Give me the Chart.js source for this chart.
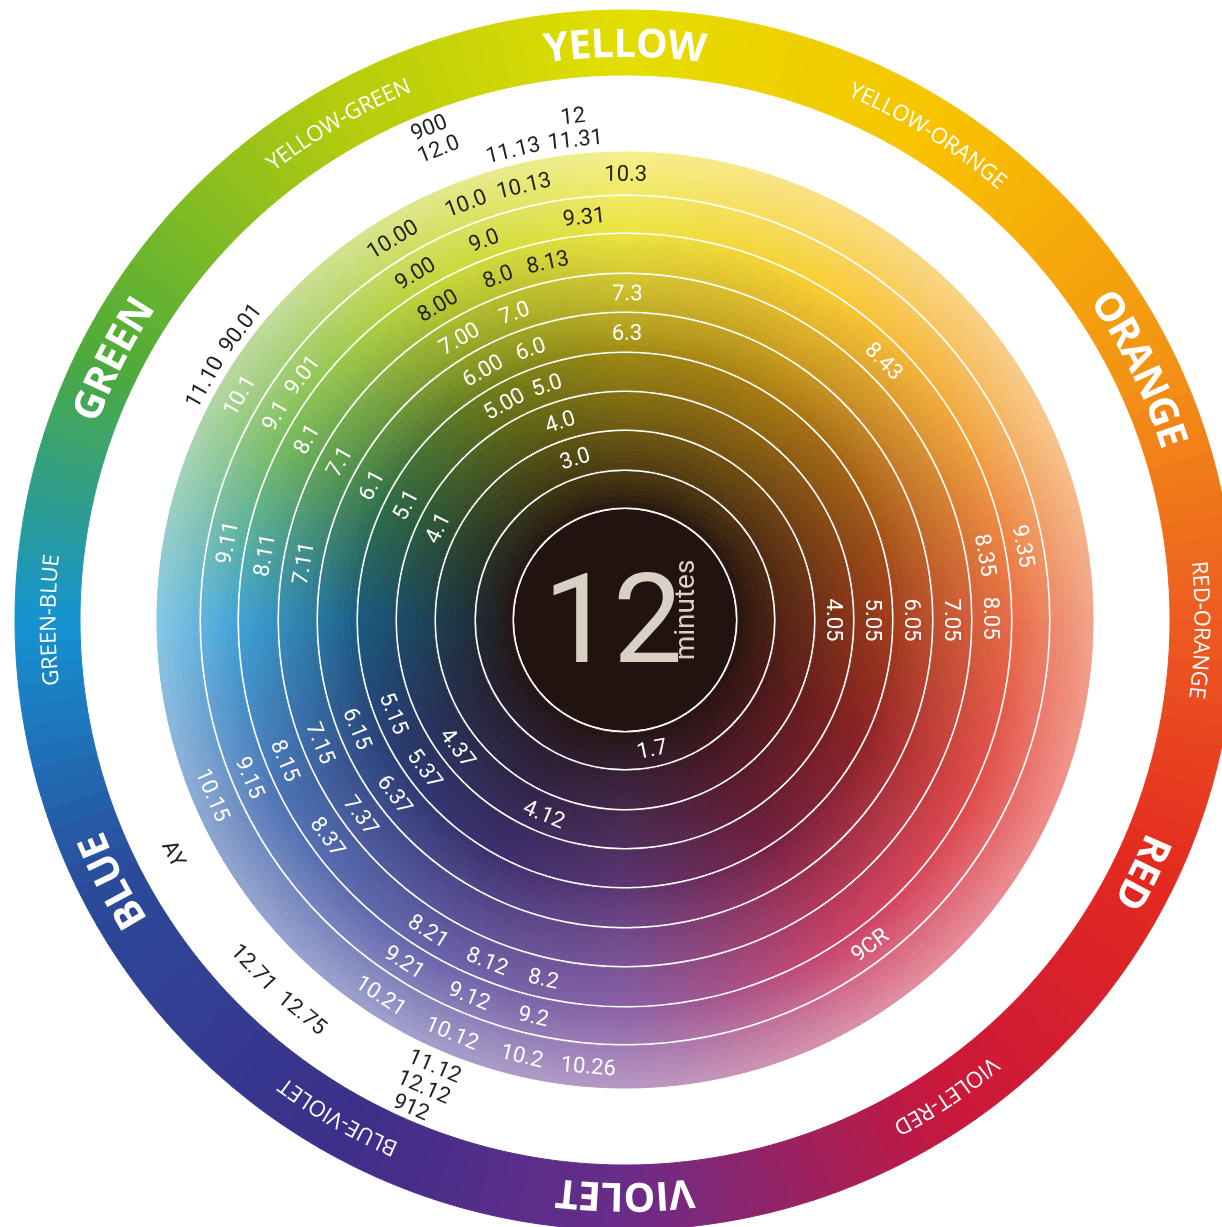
<!DOCTYPE html>
<html>
<head>
<meta charset="utf-8">
<script src="https://cdn.jsdelivr.net/npm/chart.js@4.4.1/dist/chart.umd.min.js"></script>
<style>
  html, body { margin: 0; padding: 0; background: #fff; overflow: hidden; }
  #wrap { position: relative; width: 1222px; height: 1227px; overflow: hidden; }
  #wheel { position: absolute; left: 0; top: 0; }
</style>
</head>
<body>
<div id="wrap"><canvas id="wheel" width="1250" height="1240"></canvas></div>
<script>
// Noms des teintes sur l'anneau extérieur et leur angle (degrés, sens horaire depuis le haut)
const hueNames = ['YELLOW', 'YELLOW-ORANGE', 'ORANGE', 'RED-ORANGE', 'RED', 'VIOLET-RED',
                  'VIOLET', 'BLUE-VIOLET', 'BLUE', 'GREEN-BLUE', 'GREEN', 'YELLOW-GREEN'];
const hueAngles = [0, 32, 64, 91, 116, 146, 180, 210, 243, 270, 297, 330];
const primaryHues = ['YELLOW', 'ORANGE', 'RED', 'VIOLET', 'BLUE', 'GREEN'];

// Niveaux de hauteur de ton, de l'anneau intérieur vers l'extérieur
const bandLevels = [1, 3, 4, 5, 6, 7, 8, 9, 10];

// Codes de nuances : [texte, anneau (1 = centre), angle]
const shadeLabels = [
  ['10.00', 9, 328.6], ['10.0', 9, 339.1], ['10.13', 9, 346.9], ['10.3', 9, 0.1], ['10.1', 9, 300.2],
  ['10.15', 9, 247], ['10.21', 9, 213], ['10.12', 9, 202.7], ['10.2', 9, 193.3], ['10.26', 9, 184.7],
  ['9.00', 8, 328.8], ['9.0', 8, 339.6], ['9.31', 8, 354.2], ['9.1', 8, 300.3], ['9.01', 8, 307.2],
  ['9.11', 8, 281], ['9.35', 8, 79.5], ['9.15', 8, 247.2], ['9.21', 8, 212.8], ['9.12', 8, 202.5],
  ['9.2', 8, 193], ['9CR', 8, 143],
  ['8.00', 7, 329.2], ['8.0', 7, 339.7], ['8.13', 7, 347.8], ['8.1', 7, 299.6], ['8.11', 7, 280.2],
  ['8.43', 7, 45], ['8.35', 7, 79.8], ['8.05', 7, 89.7], ['8.15', 7, 247.5], ['8.37', 7, 233.9],
  ['8.21', 7, 212.3], ['8.12', 7, 202], ['8.2', 7, 192.8],
  ['7.00', 6, 329.5], ['7.0', 6, 340.2], ['7.3', 6, 0.4], ['7.1', 6, 299], ['7.11', 6, 280],
  ['7.05', 6, 90], ['7.15', 6, 248], ['7.37', 6, 233.5],
  ['6.00', 5, 330.3], ['6.0', 5, 340.8], ['6.3', 5, 0.4], ['6.1', 5, 298], ['6.05', 5, 90],
  ['6.15', 5, 247.9], ['6.37', 5, 232.8],
  ['5.00', 4, 330.8], ['5.0', 4, 341.6], ['5.1', 4, 297.7], ['5.05', 4, 90], ['5.15', 4, 248],
  ['5.37', 4, 233.4],
  ['4.0', 3, 341.9], ['4.1', 3, 296.2], ['4.05', 3, 90], ['4.37', 3, 232.6], ['4.12', 3, 202.6],
  ['3.0', 2, 342.8],
  ['1.7', 1, 168.2]
];

// Codes imprimés dans l'espace blanc : [texte, rangée (1 = près du disque), angle]
const gapLabels = [
  ['11.13', 1, 346.6], ['11.31', 1, 354.1], ['12.0', 2, 338.4], ['12', 2, 354.1], ['900', 3, 338.3],
  ['11.10', 1, 299.5], ['90.01', 1, 307.2], ['AY', 2, 242.6], ['12.71', 2, 226.9], ['12.75', 2, 219.4],
  ['11.12', 1, 203.1], ['12.12', 2, 203.3], ['912', 3, 203.7]
];

const centerValue = '12';
const centerUnit = 'minutes';

// Palettes (une couleur par teinte, dans l'ordre de hueAngles)
const ringColors = ['#e3de00', '#f8c300', '#f39414', '#ec5a21', '#e3291f', '#c9173a',
                    '#6a2c89', '#3b2f89', '#2b4a9a', '#1593d1', '#4fab3a', '#b3cb0d'];
const midColors  = ['#a08a14', '#a87c12', '#a25a18', '#a23c1c', '#902226', '#762040',
                    '#5c3674', '#3c2e6e', '#283e74', '#1a5c82', '#306e44', '#727e18'];
const fullColors = ['#ece440', '#f9cc34', '#f0a040', '#e86a48', '#e04a4a', '#cc4268',
                    '#8a60a6', '#6a64aa', '#4c72b4', '#40a4d8', '#78bc60', '#c4d638'];
const tintColors = ['#f6f08c', '#fadc82', '#f8c88c', '#f2a48c', '#f08c8a', '#e08ea4',
                    '#b898c4', '#a0a0cc', '#90a6d0', '#88c8e6', '#b0d6a4', '#dce68c'];
const coreColor = '#231310';

// Géométrie (rayons en px)
const R_OUTER = 610, R_RING_IN = 545, R_DISK = 468;
const bandEdges = [468, 425, 387, 347, 308, 268, 229, 190, 150, 112]; // extérieur -> intérieur
const R_MID = 268, R_FULL = 387;
const LINE = 2, SUB = 6, SEG = 180;

const hex = c => [parseInt(c.slice(1, 3), 16), parseInt(c.slice(3, 5), 16), parseInt(c.slice(5, 7), 16)];
const mix = (a, b, t) => a.map((v, i) => v + (b[i] - v) * t);
const rgb = a => `rgb(${a.map(v => Math.round(v)).join(',')})`;

function atAngle(pal, deg) {
  const n = hueAngles.length;
  deg = ((deg % 360) + 360) % 360;
  for (let i = 0; i < n; i++) {
    const a0 = hueAngles[i];
    const a1 = i + 1 < n ? hueAngles[i + 1] : 360;
    if (deg >= a0 && deg < a1) {
      return mix(hex(pal[i]), hex(pal[(i + 1) % n]), (deg - a0) / (a1 - a0));
    }
  }
  return hex(pal[0]);
}

function diskColor(deg, r) {
  const core = hex(coreColor);
  const rCore = bandEdges[bandEdges.length - 1];
  if (r <= rCore) return core;
  const m = atAngle(midColors, deg);
  if (r < R_MID) return mix(core, m, Math.pow((r - rCore) / (R_MID - rCore), 0.75));
  const f = atAngle(fullColors, deg);
  if (r < R_FULL) return mix(m, f, Math.pow((r - R_MID) / (R_FULL - R_MID), 0.85));
  return mix(f, atAngle(tintColors, deg), (r - R_FULL) / (R_DISK - R_FULL));
}

const segAngles = Array.from({ length: SEG }, (_, i) => (i + 0.5) * 360 / SEG);
const ones = n => Array(n).fill(1);

const datasets = [];
const bandIdx = {};

// Anneau des teintes
const ringCols = segAngles.map(a => rgb(atAngle(ringColors, a)));
datasets.push({ data: ones(SEG), weight: R_OUTER - R_RING_IN, backgroundColor: ringCols, borderColor: ringCols, borderWidth: 1 });
// Espace blanc
datasets.push({ data: [1], weight: R_RING_IN - R_DISK, backgroundColor: 'rgba(0,0,0,0)', borderWidth: 0 });

// Anneaux de nuances + filets blancs
for (let b = 0; b < bandLevels.length; b++) {
  const outer = b === 0 ? bandEdges[0] : bandEdges[b] - LINE / 2;
  const inner = bandEdges[b + 1] + LINE / 2;
  const th = (outer - inner) / SUB;
  const bandNo = bandLevels.length - b;
  bandIdx[bandNo] = { first: datasets.length, last: datasets.length + SUB - 1 };
  for (let s = 0; s < SUB; s++) {
    const r = outer - (s + 0.5) * th;
    const cols = segAngles.map(a => rgb(diskColor(a, r)));
    datasets.push({ data: ones(SEG), weight: th, backgroundColor: cols, borderColor: cols, borderWidth: 1 });
  }
  datasets.push({ data: [1], weight: LINE, backgroundColor: '#ffffff', borderWidth: 0 });
}
// Disque central
datasets.push({ data: [1], weight: bandEdges[bandEdges.length - 1] - LINE / 2, backgroundColor: coreColor, borderWidth: 0 });

// Texte courbe le long de l'anneau
function arcText(ctx, cx, cy, r, deg, text, font, size) {
  ctx.save();
  ctx.font = font;
  ctx.fillStyle = '#ffffff';
  ctx.textAlign = 'center';
  ctx.textBaseline = 'alphabetic';
  const chars = [...text];
  const widths = chars.map(ch => ctx.measureText(ch).width);
  const total = widths.reduce((a, w) => a + w, 0);
  let a = deg * Math.PI / 180 - total / 2 / r;
  chars.forEach((ch, k) => {
    const ang = a + widths[k] / 2 / r;
    ctx.save();
    ctx.translate(cx, cy);
    ctx.rotate(ang);
    ctx.fillText(ch, 0, -r + size * 0.357);
    ctx.restore();
    a += widths[k] / r;
  });
  ctx.restore();
}

// Texte droit orienté selon la tangente
function tangentText(ctx, cx, cy, r, deg, text, color, size) {
  const flip = deg > 95 && deg < 265;
  const a = deg * Math.PI / 180;
  ctx.save();
  ctx.translate(cx + r * Math.sin(a), cy - r * Math.cos(a));
  ctx.rotate(flip ? a - Math.PI : a);
  ctx.fillStyle = color;
  ctx.textAlign = 'center';
  ctx.textBaseline = 'alphabetic';
  ctx.fillText(text, 0, size * 0.355);
  ctx.restore();
}

const wheelText = {
  id: 'wheelText',
  afterDatasetsDraw(chart) {
    const ctx = chart.ctx;
    const ring = chart.getDatasetMeta(0).data[0];
    const gap = chart.getDatasetMeta(1).data[0];
    const cx = ring.x, cy = ring.y;

    // noms des teintes
    const rMid = (ring.outerRadius + ring.innerRadius) / 2;
    hueNames.forEach((name, i) => {
      const major = primaryHues.includes(name);
      const size = major ? 40 : 22;
      const font = (major ? 'bold ' : '') + size + 'px "Open Sans"';
      arcText(ctx, cx, cy, rMid, hueAngles[i], name, font, size);
    });

    // codes dans les anneaux
    const fs = 22;
    ctx.font = fs + 'px Roboto';
    shadeLabels.forEach(([text, band, deg]) => {
      const idx = bandIdx[band];
      const ro = chart.getDatasetMeta(idx.first).data[0].outerRadius;
      const ri = chart.getDatasetMeta(idx.last).data[0].innerRadius;
      const dark = band >= 7 && (deg > 320 || deg < 20);
      tangentText(ctx, cx, cy, (ro + ri) / 2, deg, text, dark ? '#231f20' : '#ffffff', fs);
    });

    // codes dans l'espace blanc
    gapLabels.forEach(([text, row, deg]) => {
      const r = gap.innerRadius + 16 + (row - 1) * 23.5;
      tangentText(ctx, cx, cy, r, deg, text, '#231f20', fs);
    });

    // centre
    ctx.save();
    ctx.fillStyle = '#d9d1c6';
    ctx.textAlign = 'center';
    ctx.textBaseline = 'alphabetic';
    ctx.font = '124px Roboto';
    ctx.fillText(centerValue, cx - 12, cy + 42);
    ctx.translate(cx + 69, cy - 10);
    ctx.rotate(-Math.PI / 2);
    ctx.font = '28px Roboto';
    ctx.fillText(centerUnit, 0, 0);
    ctx.restore();
  }
};

new Chart(document.getElementById('wheel'), {
  type: 'doughnut',
  data: { labels: segAngles.map(a => a.toFixed(0)), datasets: datasets },
  options: {
    responsive: false,
    animation: false,
    events: [],
    radius: R_OUTER,
    cutout: 0,
    rotation: 0,
    layout: { padding: 0 },
    plugins: { legend: { display: false }, tooltip: { enabled: false } }
  },
  plugins: [wheelText]
});
</script>
</body>
</html>
